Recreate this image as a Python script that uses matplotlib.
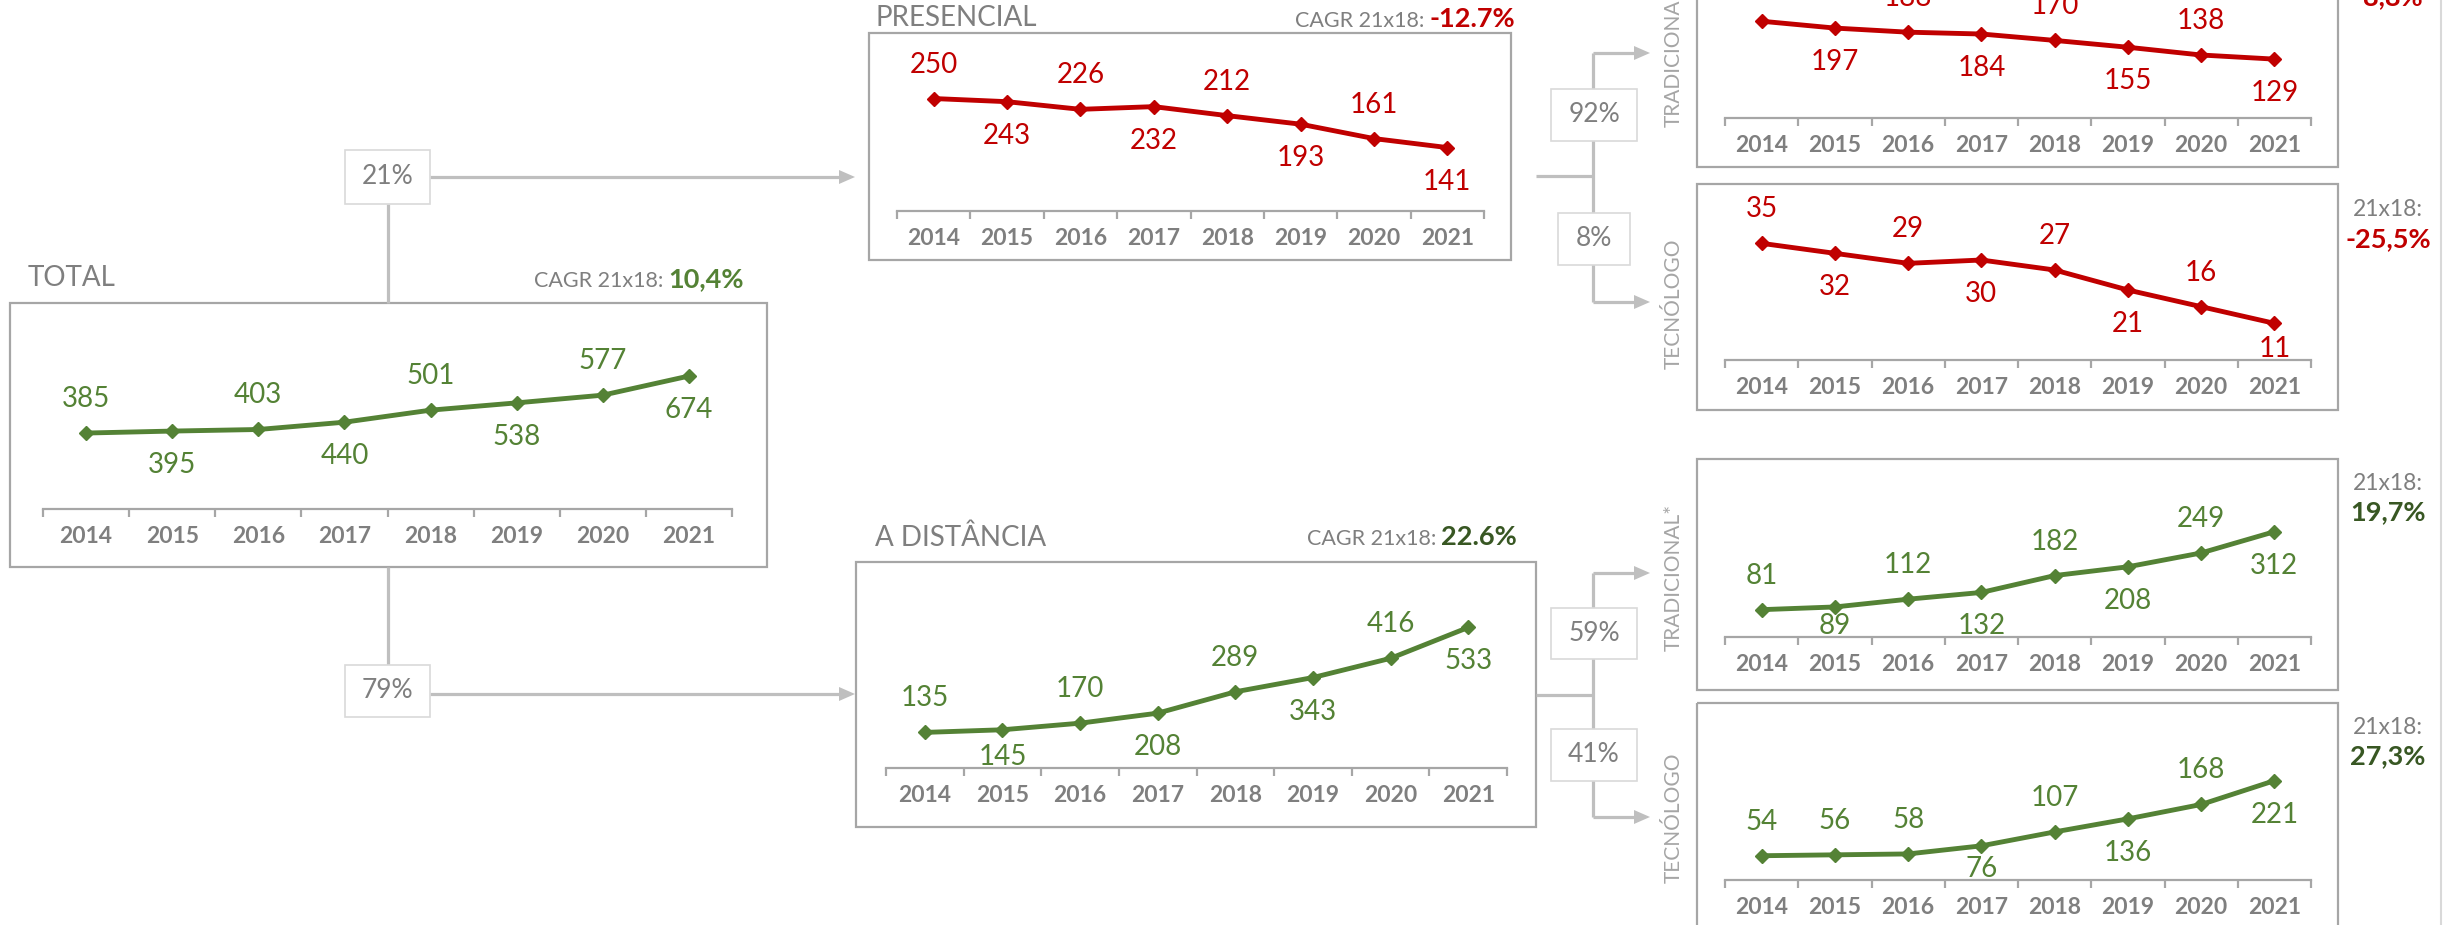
import matplotlib
matplotlib.use("Agg")
import matplotlib.pyplot as plt
from matplotlib.patches import Rectangle, Polygon

plt.rcParams["font.family"] = ["Lato", "DejaVu Sans"]

W, H = 2443, 925
RED = "#C00000"
GREEN = "#548235"
DKGREEN = "#385723"
GREY_TXT = "#7F7F7F"
SIDE_TXT = "#A5A5A5"
FRAME = "#A6A6A6"
LINK = "#BFBFBF"

years = ["2014", "2015", "2016", "2017", "2018", "2019", "2020", "2021"]
total = [385, 395, 403, 440, 501, 538, 577, 674]
presencial = [250, 243, 226, 232, 212, 193, 161, 141]
distancia = [135, 145, 170, 208, 289, 343, 416, 533]
pres_tradicional = [212, 197, 188, 184, 170, 155, 138, 129]
pres_tecnologo = [35, 32, 29, 30, 27, 21, 16, 11]
ead_tradicional = [81, 89, 112, 132, 182, 208, 249, 312]
ead_tecnologo = [54, 56, 58, 76, 107, 136, 168, 221]

# data label side: 1 = above the point, -1 = below
alt_pos = [1, -1, 1, -1, 1, -1, 1, -1]
ead_tec_pos = [1, 1, 1, -1, 1, -1, 1, -1]

share_pres, share_ead = "21%", "79%"
share_pres_trad, share_pres_tec = "92%", "8%"
share_ead_trad, share_ead_tec = "59%", "41%"
cagr_total, cagr_pres, cagr_ead = "10,4%", "-12.7%", "22.6%"
cagr_pres_trad, cagr_pres_tec = "-8,8%", "-25,5%"
cagr_ead_trad, cagr_ead_tec = "19,7%", "27,3%"

fig = plt.figure(figsize=(W / 100, H / 100), dpi=100)
ax0 = fig.add_axes([0, 0, 1, 1])
ax0.set_xlim(0, W)
ax0.set_ylim(H, 0)
ax0.axis("off")


def frame(l, r, t, b):
    ax0.add_patch(Rectangle((l, t), r - l, b - t, fill=False, ec=FRAME, lw=1.6, zorder=1))


def share_box(l, r, t, b, label):
    ax0.add_patch(Rectangle((l, t), r - l, b - t, fc="white", ec="#D9D9D9", lw=1.2, zorder=4))
    ax0.text((l + r) / 2, (t + b) / 2, label, ha="center", va="center",
             fontsize=19, color=GREY_TXT, zorder=5)


def link(xs, ys):
    ax0.plot(xs, ys, color=LINK, lw=2.3, zorder=2, solid_capstyle="butt")


def arrow(x0, tip, y):
    link([x0, tip - 14], [y, y])
    ax0.add_patch(Polygon([(tip - 16, y - 7), (tip, y), (tip - 16, y + 7)],
                          closed=True, fc=LINK, ec="none", zorder=2))


def cagr(xr, y, value, color):
    t = ax0.text(xr, y, value, ha="right", va="baseline", fontsize=19.5,
                 fontweight="bold", color=color)
    bb = t.get_window_extent(fig.canvas.get_renderer())
    left = ax0.transData.inverted().transform((bb.x0, 0))[0]
    ax0.text(left - 5, y, "CAGR 21x18:", ha="right", va="baseline",
             fontsize=15.5, color=GREY_TXT)


def side(y, label):
    ax0.text(1674, y, label, rotation=90, ha="center", va="center",
             fontsize=15, color=SIDE_TXT)


def side_cagr(ytop, value, color):
    ax0.text(2388, ytop, "21x18:", ha="center", va="center", fontsize=16.5, color=GREY_TXT)
    ax0.text(2388, ytop + 29, value, ha="center", va="center", fontsize=19.5,
             fontweight="bold", color=color)


def panel(l, r, b, t, values, color, ymax, pos):
    ax = fig.add_axes([l / W, 1 - b / H, (r - l) / W, (b - t) / H])
    ax.patch.set_alpha(0)
    x = list(range(len(values)))
    ax.plot(x, values, color=color, lw=3.5, marker="D", ms=7, zorder=3, clip_on=False)
    ax.set_xlim(-0.5, len(values) - 0.5)
    ax.set_ylim(0, ymax)
    px_per_unit = (b - t) / ymax
    for i, v in enumerate(values):
        if pos[i] > 0:
            off_px = 34
        else:
            # labels below the line stay inside the plot area
            off_px = -min(34, v * px_per_unit - 11)
        ax.annotate(str(v), (i, v), xytext=(0, off_px * 0.72), textcoords="offset points",
                    ha="center", va="center", fontsize=20, color=color)
    for s in ["top", "left", "right"]:
        ax.spines[s].set_visible(False)
    ax.spines["bottom"].set_color(FRAME)
    ax.spines["bottom"].set_linewidth(1.6)
    ax.set_xticks(x)
    ax.set_xticklabels(years, fontsize=16.5, fontweight="bold", color=GREY_TXT)
    ax.tick_params(axis="x", which="major", length=0, pad=12)
    ax.set_xticks([i - 0.5 for i in range(len(values) + 1)], minor=True)
    ax.tick_params(axis="x", which="minor", length=6, width=1.6, color=FRAME)
    ax.set_yticks([])
    return ax


# ---- frames ----
frame(10, 767, 303, 567)      # total
frame(869, 1511, 33, 260)     # presencial
frame(856, 1536, 562, 827)    # a distancia
frame(1697, 2338, -59, 167)   # presencial tradicional
frame(1697, 2338, 184, 410)   # presencial tecnologo
frame(1697, 2338, 459, 690)   # ead tradicional
frame(1697, 2338, 703, 960)   # ead tecnologo
ax0.plot([2441, 2441], [0, H], color="#D9D9D9", lw=1.5)

# ---- connectors ----
link([388, 388], [204, 303])
link([388, 388], [567, 665])
arrow(430, 855, 177)
arrow(430, 855, 694)
link([1536, 1593], [176, 176])
link([1593, 1593], [53, 302])
arrow(1593, 1650, 53)
arrow(1593, 1650, 302)
link([1536, 1593], [695, 695])
link([1593, 1593], [573, 817])
arrow(1593, 1650, 573)
arrow(1593, 1650, 817)
share_box(345, 430, 150, 204, share_pres)
share_box(345, 430, 665, 717, share_ead)
share_box(1551, 1637, 89, 141, share_pres_trad)
share_box(1558, 1630, 213, 265, share_pres_tec)
share_box(1551, 1637, 608, 659, share_ead_trad)
share_box(1551, 1637, 729, 781, share_ead_tec)

# ---- titles ----
ax0.text(28, 278, "TOTAL", ha="left", va="center", fontsize=20, color=GREY_TXT)
ax0.text(876, 18, "PRESENCIAL", ha="left", va="center", fontsize=20, color=GREY_TXT)
ax0.text(875, 538, "A DISTÂNCIA", ha="left", va="center", fontsize=20, color=GREY_TXT)
cagr(744, 287, cagr_total, GREEN)
cagr(1515, 27, cagr_pres, RED)
cagr(1517, 545, cagr_ead, DKGREEN)

side(58, "TRADICIONAL")
side(304, "TECNÓLOGO")
side(577, "TRADICIONAL*")
side(818, "TECNÓLOGO")
side_cagr(-32, cagr_pres_trad, RED)
side_cagr(210, cagr_pres_tec, RED)
side_cagr(483, cagr_ead_trad, DKGREEN)
side_cagr(727, cagr_ead_tec, DKGREEN)

# ---- panels ----
panel(43, 732, 509, 320, total, GREEN, 958, alt_pos)
panel(897, 1484, 211, 45, presencial, RED, 369, alt_pos)
panel(886, 1507, 768, 575, distancia, GREEN, 732, alt_pos)
panel(1725, 2311, 118, -55, pres_tradicional, RED, 379, alt_pos)
panel(1725, 2311, 360, 195, pres_tecnologo, RED, 49.5, alt_pos)
panel(1725, 2311, 637, 475, ead_tradicional, GREEN, 480, alt_pos)
panel(1725, 2311, 880, 720, ead_tecnologo, GREEN, 356, ead_tec_pos)

fig.savefig("out.png", dpi=100)
